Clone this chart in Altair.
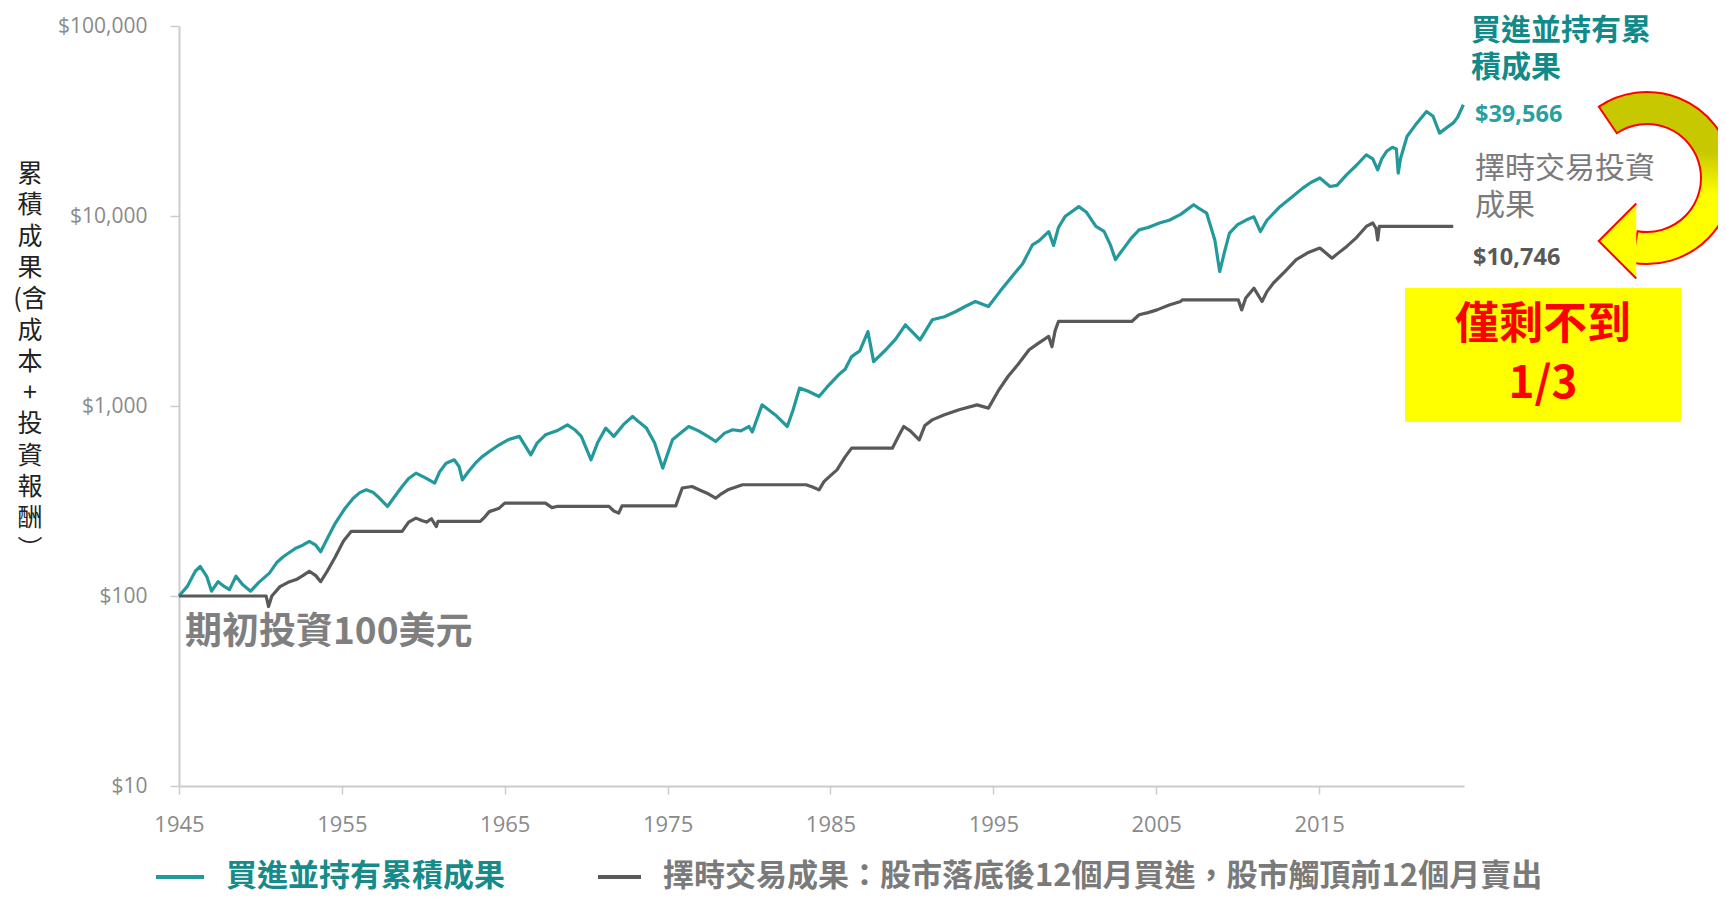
import altair as alt
import pandas as pd

# ---------------- data ----------------
teal_years = [1945.0, 1945.5, 1946.0, 1946.3, 1946.7, 1947.0, 1947.4, 1947.8, 1948.1, 1948.5,
              1948.9, 1949.4, 1949.9, 1950.55, 1951.0, 1951.4, 1951.8, 1952.2, 1952.6, 1953.0,
              1953.4, 1953.7, 1954.1, 1954.6, 1955.2, 1955.7, 1956.1, 1956.5, 1956.9, 1957.2,
              1957.8, 1958.2, 1958.7, 1959.1, 1959.55, 1960.1, 1960.7, 1961.0, 1961.4, 1961.9,
              1962.2, 1962.4, 1962.8, 1963.2, 1963.6, 1964.05, 1964.66, 1965.2, 1965.9, 1966.6,
              1967.0, 1967.5, 1968.2, 1968.85, 1969.3, 1969.7, 1970.3, 1970.7, 1971.2, 1971.7,
              1972.3, 1972.85, 1973.2, 1973.7, 1974.2, 1974.7, 1975.3, 1975.8, 1976.3, 1976.9,
              1977.5, 1977.95, 1978.5, 1979.0, 1979.5, 1980.0, 1980.2, 1980.8, 1981.6, 1982.35,
              1982.7, 1983.1, 1983.6, 1984.3, 1984.8, 1985.5, 1985.9, 1986.3, 1986.8, 1987.3,
              1987.65, 1988.4, 1989.0, 1989.6, 1990.5, 1991.25, 1992.0, 1992.7, 1993.3, 1993.9,
              1994.7, 1995.4, 1996.15, 1996.8, 1997.4, 1997.8, 1998.4, 1998.7, 1999.0, 1999.4,
              2000.25, 2000.7, 2001.3, 2001.8, 2002.2, 2002.5, 2002.8, 2003.1, 2003.5, 2003.95,
              2004.5, 2005.2, 2005.8, 2006.5, 2007.3, 2007.6, 2008.1, 2008.6, 2008.9, 2009.2,
              2009.5, 2010.0, 2010.55, 2011.0, 2011.4, 2011.8, 2012.6, 2013.3, 2014.0, 2014.5,
              2015.05, 2015.67, 2016.1, 2016.7, 2017.3, 2017.9, 2018.3, 2018.6, 2018.85, 2019.15,
              2019.5, 2019.75, 2019.86, 2020.0, 2020.4, 2020.9, 2021.6, 2022.0, 2022.4, 2022.8,
              2023.24, 2023.5, 2023.86]
teal_values = [100, 112, 135, 143, 127, 106, 119, 112, 108, 127,
               115, 106, 118, 132, 150, 161, 170, 179, 185, 194,
               185, 171, 200, 242, 290, 327, 350, 362, 352, 334,
               296, 330, 377, 415, 443, 420, 393, 450, 500, 521,
               480, 409, 455, 500, 540, 576, 625, 664, 692, 553,
               640, 705, 740, 796, 750, 692, 521, 640, 765, 692,
               800, 881, 830, 765, 640, 471, 664, 720, 780, 740,
               690, 650, 720, 750, 740, 780, 730, 1014, 900, 780,
               950, 1242, 1200, 1122, 1260, 1459, 1560, 1820, 1950, 2465,
               1713, 1977, 2250, 2675, 2228, 2842, 2950, 3142, 3350, 3548,
               3340, 4000, 4808, 5600, 7047, 7400, 8279, 7000, 8700, 9931,
               11200, 10500, 8810, 8300, 7000, 5890, 6400, 6920, 7700, 8450,
               8700, 9190, 9500, 10200, 11460, 11000, 10350, 7480, 5100, 6500,
               8130, 9000, 9550, 9900, 8280, 9500, 11200, 12500, 14020, 15000,
               15850, 14300, 14500, 16500, 18500, 21000, 20000, 17500, 20000, 21900,
               23000, 22500, 16800, 20000, 26200, 30000, 35500, 33500, 27300, 29000,
               30900, 33000, 38500]

gray_years = [1945.0, 1950.35, 1950.5, 1950.7, 1951.2, 1951.7, 1952.2, 1952.6, 1953.0, 1953.4,
              1953.7, 1954.1, 1954.6, 1955.1, 1955.58, 1958.7, 1959.1, 1959.55, 1959.9, 1960.2,
              1960.5, 1960.8, 1960.9, 1963.5, 1963.8, 1964.05, 1964.66, 1965.0, 1967.5, 1967.9,
              1968.2, 1971.4, 1971.7, 1972.0, 1972.2, 1975.5, 1975.9, 1976.5, 1977.0, 1977.5,
              1977.95, 1978.3, 1978.7, 1979.2, 1979.6, 1983.5, 1983.9, 1984.3, 1984.6, 1985.0,
              1985.4, 1985.9, 1986.3, 1988.8, 1989.2, 1989.5, 1989.9, 1990.45, 1990.8, 1991.25,
              1992.0, 1992.9, 1994.0, 1994.7, 1995.3, 1995.9, 1996.5, 1997.2, 1997.8, 1998.4,
              1998.6, 1998.8, 1999.0, 2003.5, 2003.95, 2004.5, 2005.05, 2005.8, 2006.5, 2006.6,
              2010.04, 2010.25, 2010.5, 2011.0, 2011.5, 2011.8, 2012.2, 2012.9, 2013.6, 2014.3,
              2015.05, 2015.8, 2016.1, 2016.7, 2017.3, 2017.9, 2018.3, 2018.5, 2018.6, 2018.7,
              2023.24]
gray_values = [100, 100, 88, 100, 112, 118, 122, 128, 135, 128,
               119, 135, 161, 195, 219, 219, 245, 257, 250, 245,
               255, 232, 247, 247, 262, 278, 290, 308, 308, 292,
               296, 296, 280, 273, 298, 298, 370, 377, 360, 345,
               327, 345, 362, 375, 385, 385, 375, 362, 400, 430,
               461, 540, 600, 600, 700, 780, 740, 664, 790, 845,
               900, 955, 1014, 975, 1200, 1430, 1650, 1977, 2150, 2324,
               2050, 2500, 2786, 2786, 3020, 3100, 3206, 3400, 3548, 3620,
               3620, 3206, 3700, 4170, 3548, 4000, 4440, 5100, 5890, 6400,
               6780, 6000, 6300, 6920, 7700, 8810, 9190, 8600, 7480, 8810,
               8810]

series_names = ["買進並持有累積成果", "擇時交易成果"]
series_colors = ["#23999c", "#595959"]
x_tick_years = [1945, 1955, 1965, 1975, 1985, 1995, 2005, 2015]
y_tick_values = [10, 100, 1000, 10000, 100000]
y_title_lines = ["累", "積", "成", "果", "(含", "成", "本", "+", "投", "資", "報", "酬", "︶"]
start_label = "期初投資100美元"
buy_label_lines = ["買進並持有累", "積成果"]
buy_end_value = "$39,566"
timing_label_lines = ["擇時交易投資", "成果"]
timing_end_value = "$10,746"
callout_lines = ["僅剩不到", "1/3"]
legend_labels = ["買進並持有累積成果", "擇時交易成果：股市落底後12個月買進，股市觸頂前12個月賣出"]

# ---------------- chart ----------------
CJK = "Noto Sans CJK TC"
NUM = "Open Sans"
W, H = 1285, 760

df = pd.concat([
    pd.DataFrame({"year": teal_years, "value": teal_values, "series": series_names[0]}),
    pd.DataFrame({"year": gray_years, "value": gray_values, "series": series_names[1]}),
])

x_scale = alt.Scale(domain=[1945, 2023.9], nice=False, zero=False)
y_scale = alt.Scale(type="log", domain=[10, 100000], nice=False)

lines = alt.Chart(df).mark_line(strokeWidth=3.2, strokeJoin="round").encode(
    x=alt.X("year:Q", scale=x_scale,
            axis=alt.Axis(values=x_tick_years, format="d", title=None, grid=False,
                          labelFontSize=22, labelFont=NUM, labelColor="#8a8a8a",
                          labelFlush=False, labelPadding=20, tickSize=8,
                          tickColor="#cccccc", tickWidth=1.5,
                          domainColor="#cccccc", domainWidth=2)),
    y=alt.Y("value:Q", scale=y_scale,
            axis=alt.Axis(values=y_tick_values, labelExpr="'$' + format(datum.value, ',')",
                          title=None, grid=False, labelFontSize=21, labelFont=NUM,
                          labelColor="#8a8a8a", labelPadding=23, tickSize=9,
                          labelFlush=False,
                          tickColor="#cccccc", tickWidth=1.5,
                          domainColor="#cccccc", domainWidth=2)),
    color=alt.Color("series:N", scale=alt.Scale(domain=series_names, range=series_colors),
                    legend=None),
)

anchor = pd.DataFrame({"a": [0]})


def txt(text, x, y, size, color, weight="normal", align="left", font=CJK, **kw):
    return alt.Chart(anchor).mark_text(
        text=text, fontSize=size, color=color, fontWeight=weight, align=align,
        baseline="middle", font=font, **kw
    ).encode(x=alt.value(x), y=alt.value(y))


y_title = txt(y_title_lines, -149, 148, 25, "#222222", align="center", lineHeight=31.3)
start_txt = txt(start_label, 6, 607, 37, "#7f7f7f", weight="bold")
buy_lbl = txt(buy_label_lines, 1292, 5, 30, "#138a8a", weight="bold", lineHeight=37)
buy_val = txt(buy_end_value, 1296, 88.5, 23.5, "#2a9fa1", weight="bold", font=NUM)
tim_lbl = txt(timing_label_lines, 1296, 142.5, 30, "#7b7b7b", lineHeight=37.5)
tim_val = txt(timing_end_value, 1294, 232, 23.5, "#595959", weight="bold", font=NUM)

box = alt.Chart(anchor).mark_rect(color="#ffff00").encode(
    x=alt.value(1226), x2=alt.value(1502), y=alt.value(262), y2=alt.value(396))
call_lbl = txt(callout_lines, 1364, 300, 44, "#ff0000", weight="bold", align="center",
               lineHeight=59)

grad = alt.Gradient(
    gradient="linear",
    stops=[alt.GradientStop(color="#c8c800", offset=0),
           alt.GradientStop(color="#c8c800", offset=0.35),
           alt.GradientStop(color="#ffff00", offset=0.6),
           alt.GradientStop(color="#ffff00", offset=1)],
    x1=0, x2=0, y1=0, y2=1)
arc = alt.Chart(anchor).mark_arc(
    radius=86, radius2=54, theta=5.69, theta2=9.6, fill=grad, stroke="#ff0000", strokeWidth=2
).encode(x=alt.value(1468), y=alt.value(152))
head = alt.Chart(anchor).mark_point(
    shape="M0.5,-1 L-0.5,0 L0.5,1", size=5625, filled=True, fill="#ffff00",
    stroke="#ff0000", strokeWidth=2, opacity=1
).encode(x=alt.value(1438.5), y=alt.value(215))

LEG_Y = 851
leg_rule1 = alt.Chart(anchor).mark_rule(color=series_colors[0], strokeWidth=4).encode(
    x=alt.value(-23), x2=alt.value(25), y=alt.value(LEG_Y))
leg_txt1 = txt(legend_labels[0], 47, LEG_Y, 31, "#178a8a", weight="bold")
leg_rule2 = alt.Chart(anchor).mark_rule(color=series_colors[1], strokeWidth=4).encode(
    x=alt.value(419), x2=alt.value(462), y=alt.value(LEG_Y))
leg_txt2 = txt(legend_labels[1], 484, LEG_Y, 31, "#7a7a7a", weight="bold")

chart = alt.layer(
    lines, y_title, start_txt, buy_lbl, buy_val, tim_lbl, tim_val,
    box, call_lbl, arc, head, leg_rule1, leg_txt1, leg_rule2, leg_txt2
).properties(
    width=W, height=H,
    autosize=alt.AutoSizeParams(type="none"),
    padding={"left": 171, "top": 18, "right": 254, "bottom": 108},
    background="white",
).configure_view(strokeWidth=0)

chart.save("out.html", embed_options={"renderer": "svg", "actions": False})
